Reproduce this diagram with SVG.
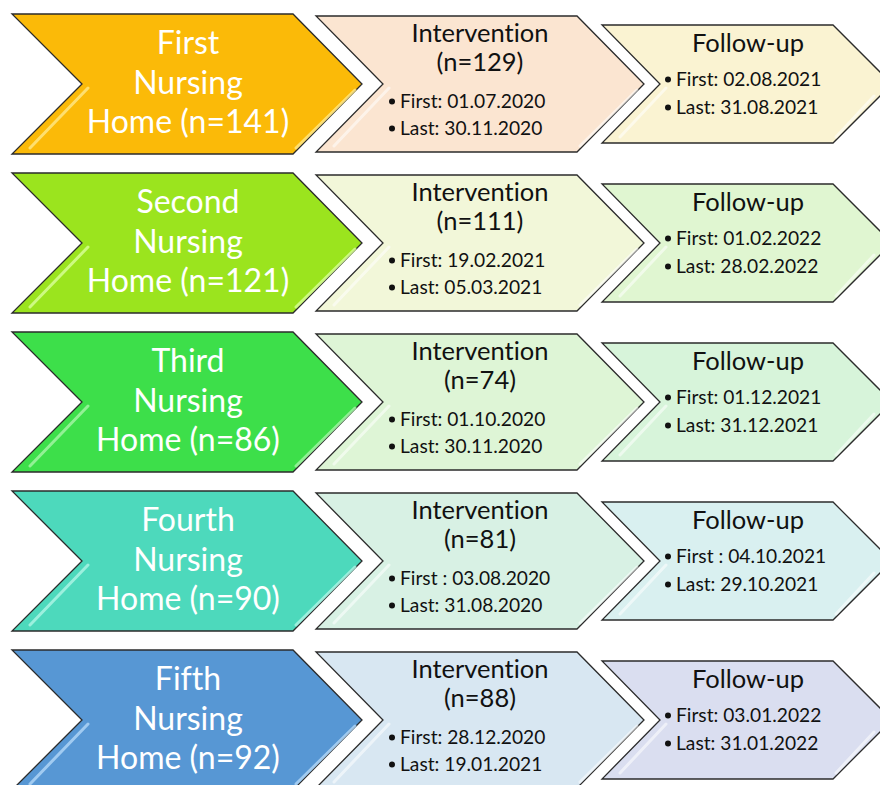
<svg xmlns="http://www.w3.org/2000/svg" width="880" height="785" viewBox="0 0 880 785">
<defs>
<style>
text{font-family:Lato,"Open Sans","Liberation Sans",sans-serif;font-variant-ligatures:none;font-feature-settings:"liga" 0}
.sh{stroke:#2b2b2b;stroke-width:1.3;stroke-linejoin:miter}
.hl{fill:none;stroke:#ffffff;stroke-width:3;stroke-opacity:0.55;stroke-linecap:round}
.big{font-size:32px;fill:#ffffff;text-anchor:middle}
.ttl{font-size:25.5px;fill:#111111;text-anchor:middle}
.bl{font-size:19.2px;fill:#111111}
.dot{fill:#111111}
</style>
<polygon id="c1" points="12,14 293,14 362,84 293,154 12,154 82,84"/>
<polygon id="c2" points="316,16 577,16 644,84 577,152 316,152 383,84"/>
<polygon id="c3" points="602,25 833,25 892,84 833,143 602,143 660,84"/>
<path id="h1" d="M88,88 L30,148 M355,90 L296,148"/>
<path id="h2" d="M389,88 L334,146 M637,90 L580,146"/>
<path id="h3" d="M666,88 L620,137 M874,96 L836,137"/>
</defs>
<rect width="880" height="785" fill="#ffffff"/>

<g id="row1">
<g id="home1"><use href="#c1" class="sh" fill="#FBBA08"/><use href="#h1" class="hl" style="stroke:#ffe98a;stroke-opacity:0.8"/>
<text class="big" x="188" y="54">First</text><text class="big" x="188" y="93.5">Nursing</text><text class="big" x="188" y="133">Home (n=141)</text></g>
<g id="intervention1"><use href="#c2" class="sh" fill="#FBE5D1"/><use href="#h2" class="hl"/>
<text class="ttl" x="480" y="42">Intervention</text><text class="ttl" x="480" y="71">(n=129)</text>
<circle class="dot" cx="392" cy="101.5" r="3"/><text class="bl" x="400" y="108">First: 01.07.2020</text>
<circle class="dot" cx="392" cy="128.5" r="3"/><text class="bl" x="400" y="135">Last: 30.11.2020</text></g>
<g id="followup1"><use href="#c3" class="sh" fill="#FAF3D2"/><use href="#h3" class="hl"/>
<text class="ttl" x="748" y="52">Follow-up</text>
<circle class="dot" cx="668" cy="79.5" r="3"/><text class="bl" x="676" y="86">First: 02.08.2021</text>
<circle class="dot" cx="668" cy="107.5" r="3"/><text class="bl" x="676" y="114">Last: 31.08.2021</text></g>
</g>

<g id="row2" transform="translate(0,159)">
<g id="home2"><use href="#c1" class="sh" fill="#9BE41E"/><use href="#h1" class="hl" style="stroke:#d9ff9a;stroke-opacity:0.8"/>
<text class="big" x="188" y="54">Second</text><text class="big" x="188" y="93.5">Nursing</text><text class="big" x="188" y="133">Home (n=121)</text></g>
<g id="intervention2"><use href="#c2" class="sh" fill="#F2F7D9"/><use href="#h2" class="hl"/>
<text class="ttl" x="480" y="42">Intervention</text><text class="ttl" x="480" y="71">(n=111)</text>
<circle class="dot" cx="392" cy="101.5" r="3"/><text class="bl" x="400" y="108">First: 19.02.2021</text>
<circle class="dot" cx="392" cy="128.5" r="3"/><text class="bl" x="400" y="135">Last: 05.03.2021</text></g>
<g id="followup2"><use href="#c3" class="sh" fill="#E0F6D1"/><use href="#h3" class="hl"/>
<text class="ttl" x="748" y="52">Follow-up</text>
<circle class="dot" cx="668" cy="79.5" r="3"/><text class="bl" x="676" y="86">First: 01.02.2022</text>
<circle class="dot" cx="668" cy="107.5" r="3"/><text class="bl" x="676" y="114">Last: 28.02.2022</text></g>
</g>

<g id="row3" transform="translate(0,318)">
<g id="home3"><use href="#c1" class="sh" fill="#3DDF4A"/><use href="#h1" class="hl" style="stroke:#a8f5a8;stroke-opacity:0.8"/>
<text class="big" x="188" y="54">Third</text><text class="big" x="188" y="93.5">Nursing</text><text class="big" x="188" y="133">Home (n=86)</text></g>
<g id="intervention3"><use href="#c2" class="sh" fill="#DEF5D6"/><use href="#h2" class="hl"/>
<text class="ttl" x="480" y="42">Intervention</text><text class="ttl" x="480" y="71">(n=74)</text>
<circle class="dot" cx="392" cy="101.5" r="3"/><text class="bl" x="400" y="108">First: 01.10.2020</text>
<circle class="dot" cx="392" cy="128.5" r="3"/><text class="bl" x="400" y="135">Last: 30.11.2020</text></g>
<g id="followup3"><use href="#c3" class="sh" fill="#D7F4DA"/><use href="#h3" class="hl"/>
<text class="ttl" x="748" y="52">Follow-up</text>
<circle class="dot" cx="668" cy="79.5" r="3"/><text class="bl" x="676" y="86">First: 01.12.2021</text>
<circle class="dot" cx="668" cy="107.5" r="3"/><text class="bl" x="676" y="114">Last: 31.12.2021</text></g>
</g>

<g id="row4" transform="translate(0,477)">
<g id="home4"><use href="#c1" class="sh" fill="#4DD9BC"/><use href="#h1" class="hl" style="stroke:#b0f5e6;stroke-opacity:0.8"/>
<text class="big" x="188" y="54">Fourth</text><text class="big" x="188" y="93.5">Nursing</text><text class="big" x="188" y="133">Home (n=90)</text></g>
<g id="intervention4"><use href="#c2" class="sh" fill="#D8F1E4"/><use href="#h2" class="hl"/>
<text class="ttl" x="480" y="42">Intervention</text><text class="ttl" x="480" y="71">(n=81)</text>
<circle class="dot" cx="392" cy="101.5" r="3"/><text class="bl" x="400" y="108">First : 03.08.2020</text>
<circle class="dot" cx="392" cy="128.5" r="3"/><text class="bl" x="400" y="135">Last: 31.08.2020</text></g>
<g id="followup4"><use href="#c3" class="sh" fill="#D9F0F0"/><use href="#h3" class="hl"/>
<text class="ttl" x="748" y="52">Follow-up</text>
<circle class="dot" cx="668" cy="79.5" r="3"/><text class="bl" x="676" y="86">First : 04.10.2021</text>
<circle class="dot" cx="668" cy="107.5" r="3"/><text class="bl" x="676" y="114">Last: 29.10.2021</text></g>
</g>

<g id="row5" transform="translate(0,636)">
<g id="home5"><use href="#c1" class="sh" fill="#5797D4"/><use href="#h1" class="hl" style="stroke:#b4d8f7;stroke-opacity:0.8"/>
<text class="big" x="188" y="54">Fifth</text><text class="big" x="188" y="93.5">Nursing</text><text class="big" x="188" y="133">Home (n=92)</text></g>
<g id="intervention5"><use href="#c2" class="sh" fill="#D8E7F2"/><use href="#h2" class="hl"/>
<text class="ttl" x="480" y="42">Intervention</text><text class="ttl" x="480" y="71">(n=88)</text>
<circle class="dot" cx="392" cy="101.5" r="3"/><text class="bl" x="400" y="108">First: 28.12.2020</text>
<circle class="dot" cx="392" cy="128.5" r="3"/><text class="bl" x="400" y="135">Last: 19.01.2021</text></g>
<g id="followup5"><use href="#c3" class="sh" fill="#DADEF0"/><use href="#h3" class="hl"/>
<text class="ttl" x="748" y="52">Follow-up</text>
<circle class="dot" cx="668" cy="79.5" r="3"/><text class="bl" x="676" y="86">First: 03.01.2022</text>
<circle class="dot" cx="668" cy="107.5" r="3"/><text class="bl" x="676" y="114">Last: 31.01.2022</text></g>
</g>
</svg>
